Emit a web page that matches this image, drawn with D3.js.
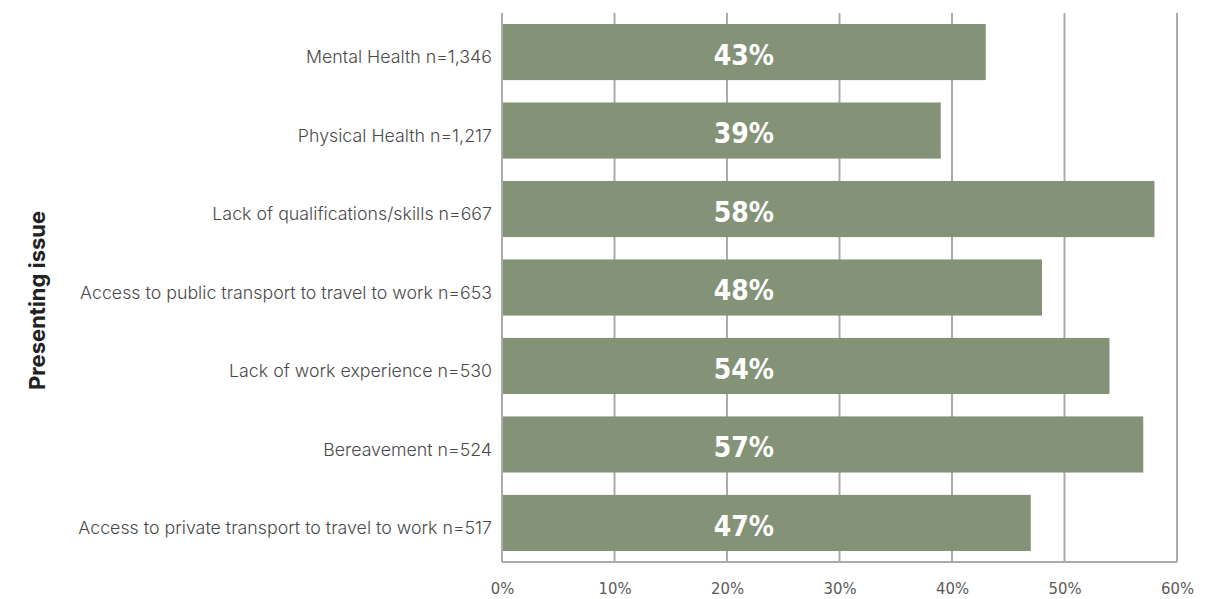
<!DOCTYPE html>
<html>
<head>
<meta charset="utf-8">
<script src="https://cdn.jsdelivr.net/npm/d3@7"></script>
<style>
  html, body { margin: 0; padding: 0; background: #fff; }
  svg { display: block; }
</style>
</head>
<body>
<svg id="chart" width="1223" height="599"></svg>
<script>
// Presenting issues and the share reported for each
const categories = [
  "Mental Health n=1,346",
  "Physical Health n=1,217",
  "Lack of qualifications/skills n=667",
  "Access to public transport to travel to work n=653",
  "Lack of work experience n=530",
  "Bereavement n=524",
  "Access to private transport to travel to work n=517"
];
const values = [43, 39, 58, 48, 54, 57, 47];
const xTicks = [0, 10, 20, 30, 40, 50, 60];

const svg = d3.select("#chart");
const margin = { top: 13, right: 46, bottom: 37, left: 502 };
const W = 1223, H = 599;
const innerW = W - margin.left - margin.right;
const innerH = H - margin.top - margin.bottom;

const g = svg.append("g").attr("transform", `translate(${margin.left},${margin.top})`);

const x = d3.scaleLinear().domain([0, 60]).range([0, innerW]);
const y = d3.scaleBand().domain(categories).range([0, innerH]).paddingInner(0.285).paddingOuter(0.14);

// vertical gridlines
g.append("g")
  .selectAll("line")
  .data(xTicks)
  .join("line")
  .attr("x1", d => x(d)).attr("x2", d => x(d))
  .attr("y1", 0).attr("y2", innerH)
  .attr("stroke", "#ababab")
  .attr("stroke-width", 2);

// bottom axis line
g.append("line")
  .attr("x1", 0).attr("x2", innerW)
  .attr("y1", innerH).attr("y2", innerH)
  .attr("stroke", "#ababab").attr("stroke-width", 2);

// bars
g.append("g")
  .selectAll("rect")
  .data(values)
  .join("rect")
  .attr("x", x(0) + 1)
  .attr("y", (d, i) => y(categories[i]))
  .attr("width", d => x(d) - x(0) - 1)
  .attr("height", y.bandwidth())
  .attr("fill", "#849378");

// value labels inside bars
g.append("g")
  .selectAll("text")
  .data(values)
  .join("text")
  .attr("x", x(21.5))
  .attr("y", (d, i) => y(categories[i]) + y.bandwidth() / 2)
  .attr("dy", "0.45em")
  .attr("text-anchor", "middle")
  .attr("fill", "#fff")
  .attr("font-family", "'DejaVu Sans Condensed', 'DejaVu Sans', sans-serif")
  .attr("font-weight", "bold")
  .attr("font-size", 28)
  .text(d => d + "%");

// category labels
const yAxis = d3.axisLeft(y).tickSize(0).tickPadding(10);
const yg = g.append("g").call(yAxis);
yg.select(".domain").remove();
yg.selectAll("text")
  .attr("dy", "0.62em")
  .attr("font-family", "Inter, 'Noto Sans', sans-serif")
  .attr("font-weight", 300)
  .attr("font-size", 17.8)
  .attr("fill", "#4a4a4a");

// x tick labels
const xAxis = d3.axisBottom(x).tickValues(xTicks).tickSize(0).tickPadding(20).tickFormat(d => d + "%");
const xg = g.append("g").attr("transform", `translate(0,${innerH})`).call(xAxis);
xg.select(".domain").remove();
xg.selectAll("text")
  .attr("font-family", "'DejaVu Sans Condensed', 'Liberation Sans Narrow', sans-serif")
  .attr("font-size", 16.5)
  .attr("fill", "#5a5a5a");

// y axis title
svg.append("text")
  .attr("transform", `translate(45,${margin.top + innerH / 2 + 13}) rotate(-90)`)
  .attr("text-anchor", "middle")
  .attr("font-family", "Inter, 'Noto Sans', sans-serif")
  .attr("font-weight", "bold")
  .attr("font-size", 22)
  .attr("fill", "#222")
  .text("Presenting issue");
</script>
</body>
</html>
